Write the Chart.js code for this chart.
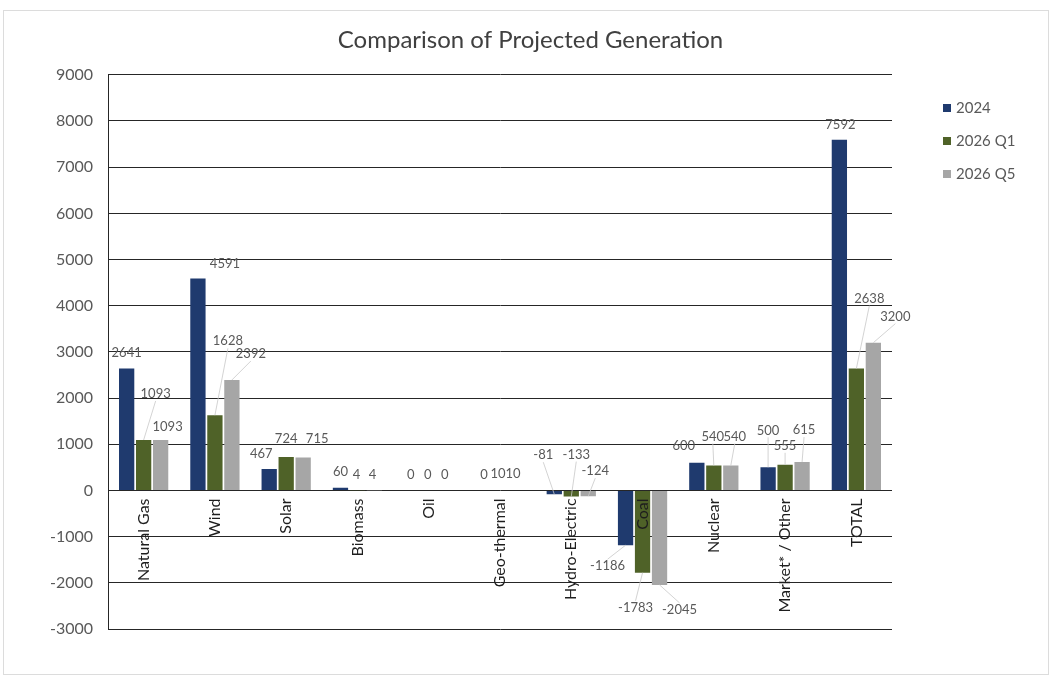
<!DOCTYPE html>
<html>
<head>
<meta charset="utf-8">
<title>Comparison of Projected Generation</title>
<script src="https://cdn.jsdelivr.net/npm/chart.js@4/dist/chart.umd.min.js"></script>
<style>
  html, body { margin: 0; padding: 0; background: #ffffff; }
  canvas { display: block; }
</style>
</head>
<body>
<canvas id="gen" width="1053" height="677"></canvas>
<script>
// Generation change by source (MW)
const categories = ['Natural Gas', 'Wind', 'Solar', 'Biomass', 'Oil', 'Geo-thermal',
  'Hydro-Electric', 'Coal', 'Nuclear', 'Market* / Other', 'TOTAL'];
const seriesNames = ['2024', '2026 Q1', '2026 Q5'];
const values2024 = [2641, 4591, 467, 60, 0, 0, -81, -1186, 600, 500, 7592];
const values2026Q1 = [1093, 1628, 724, 4, 0, 10, -133, -1783, 540, 555, 2638];
const values2026Q5 = [1093, 2392, 715, 4, 0, 10, -124, -2045, 540, 615, 3200];
const yMin = -3000;
const yMax = 9000;
const yStep = 1000;

// Value label placement relative to each bar end: [dx, dy, leader line]
const labelPlacement2024 = [[0,-16,0],[27,-15,0],[-8,-15,0],[0,-16,0],[-1,-16,0],[1,-16,0],
  [-11,-39,1],[-18,21,1],[-13,-17,0],[0,-37,1],[1,-15,0]];
const labelPlacementQ1 = [[12,-46,1],[13,-74,1],[0,-18,0],[-1,-15,0],[-1,-16,0],[-2,-16,0],
  [5,-42,1],[-7,35,1],[-1,-29,1],[0,-19,1],[13,-70,1]];
const labelPlacementQ5 = [[7,-13,0],[19,-26,1],[14,-19,0],[-2,-15,0],[-1,-16,0],[-4,-16,0],
  [7,-25,1],[20,25,1],[4,-29,1],[2,-32,1],[22,-26,1]];

const colors = ['#1f3a6e', '#4f6228', '#a6a6a6'];
const FONT = 'Lato, "Open Sans", sans-serif';

// Frame around the whole figure
const framePlugin = {
  id: 'frame',
  beforeDraw(chart) {
    const ctx = chart.ctx;
    ctx.save();
    ctx.fillStyle = '#ffffff';
    ctx.fillRect(0, 0, chart.width, chart.height);
    ctx.strokeStyle = '#dcdcdc';
    ctx.lineWidth = 1;
    ctx.strokeRect(3.5, 10.5, 1045, 664);
    ctx.restore();
  }
};

// Value labels with leader lines, category names at the zero line, legend
const annotatePlugin = {
  id: 'annotate',
  afterDatasetsDraw(chart) {
    const ctx = chart.ctx;
    const placements = [labelPlacement2024, labelPlacementQ1, labelPlacementQ5];
    ctx.save();
    chart.data.datasets.forEach((ds, di) => {
      const meta = chart.getDatasetMeta(di);
      meta.data.forEach((bar, i) => {
        const [dx, dy, leader] = placements[di][i];
        const lx = bar.x + dx;
        const ly = bar.y + dy;
        if (leader) {
          ctx.strokeStyle = '#c8c8c8';
          ctx.lineWidth = 0.8;
          ctx.beginPath();
          ctx.moveTo(lx, ly + (dy < 0 ? 7 : -7));
          ctx.lineTo(bar.x, bar.y);
          ctx.stroke();
        }
        ctx.fillStyle = '#595959';
        ctx.font = '13px ' + FONT;
        ctx.textAlign = 'center';
        ctx.textBaseline = 'middle';
        ctx.fillText(String(ds.data[i]), lx, ly);
      });
    });

    // Category names, rotated, hanging below the zero line
    const xs = chart.scales.x;
    const y0 = chart.scales.y.getPixelForValue(0);
    ctx.fillStyle = '#1e1e1e';
    ctx.font = '16px ' + FONT;
    ctx.textAlign = 'right';
    ctx.textBaseline = 'middle';
    categories.forEach((name, i) => {
      ctx.save();
      ctx.translate(xs.getPixelForValue(i), y0 + 8);
      ctx.rotate(-Math.PI / 2);
      ctx.fillText(name, 0, 0);
      ctx.restore();
    });

    // Legend
    ctx.font = '15px ' + FONT;
    ctx.textAlign = 'left';
    ctx.textBaseline = 'middle';
    chart.data.datasets.forEach((ds, di) => {
      const cy = 108 + di * 33;
      ctx.fillStyle = ds.backgroundColor;
      ctx.fillRect(943, cy - 4, 8, 8);
      ctx.fillStyle = '#595959';
      ctx.fillText(ds.label, 956, cy);
    });
    ctx.restore();
  }
};

new Chart(document.getElementById('gen'), {
  type: 'bar',
  data: {
    labels: categories,
    datasets: [
      { label: seriesNames[0], data: values2024, backgroundColor: colors[0] },
      { label: seriesNames[1], data: values2026Q1, backgroundColor: colors[1] },
      { label: seriesNames[2], data: values2026Q5, backgroundColor: colors[2] }
    ]
  },
  options: {
    responsive: false,
    animation: false,
    devicePixelRatio: 1,
    categoryPercentage: 0.715,
    barPercentage: 0.9,
    layout: { padding: { top: 0, left: 8, right: 0, bottom: 48 } },
    plugins: {
      legend: { display: false },
      tooltip: { enabled: false },
      title: {
        display: true,
        text: 'Comparison of Projected Generation',
        color: '#404040',
        font: { family: FONT, size: 24, weight: 'normal' },
        padding: { top: 26, bottom: 20 }
      }
    },
    scales: {
      x: {
        type: 'category',
        display: false,
        offset: true
      },
      y: {
        min: yMin,
        max: yMax,
        afterFit(scale) { scale.width = 100; },
        ticks: {
          stepSize: yStep,
          padding: 15,
          color: '#595959',
          font: { family: FONT, size: 16 },
          callback: (value) => String(value)
        },
        grid: { color: '#262626', lineWidth: 1, drawTicks: false },
        border: { display: true, color: '#262626', width: 1 }
      },
      // empty right-hand band that holds the legend
      legendBand: {
        type: 'linear',
        position: 'right',
        min: yMin,
        max: yMax,
        afterFit(scale) { scale.width = 161; },
        ticks: { display: false },
        grid: { display: false, drawTicks: false },
        border: { display: false }
      }
    }
  },
  plugins: [framePlugin, annotatePlugin]
});
</script>
</body>
</html>
